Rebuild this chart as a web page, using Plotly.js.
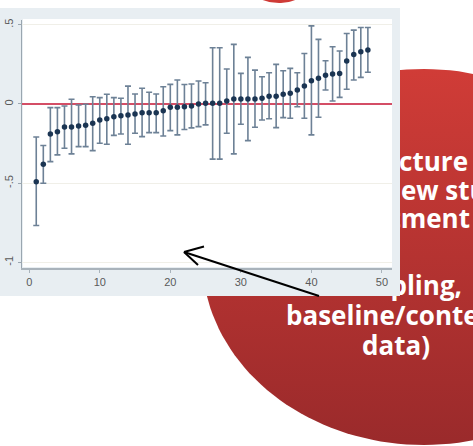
<!DOCTYPE html>
<html><head><meta charset="utf-8">
<script src="https://cdn.plot.ly/plotly-3.0.1.min.js"></script>
<style>html,body{margin:0;padding:0;background:#fff;}#chart{width:473px;height:446px;}</style>
</head><body><div id="chart"></div>
<script>
// ---- chart data ----
const study = [1,2,3,4,5,6,7,8,9,10,11,12,13,14,15,16,17,18,19,20,21,22,23,24,
               25,26,27,28,29,30,31,32,33,34,35,36,37,38,39,40,41,42,43,44,45,46,47,48];
const estimate = [-0.490,-0.380,-0.189,-0.175,-0.145,-0.145,-0.139,-0.134,-0.122,-0.101,-0.093,-0.080,
                  -0.074,-0.069,-0.063,-0.055,-0.055,-0.055,-0.042,-0.021,-0.021,-0.017,-0.013,0.000,
                  0.004,0.004,0.004,0.019,0.032,0.032,0.032,0.032,0.036,0.049,0.049,0.061,
                  0.067,0.088,0.113,0.147,0.162,0.181,0.189,0.193,0.271,0.313,0.330,0.340];
const lower = [-0.767,-0.500,-0.364,-0.321,-0.279,-0.315,-0.269,-0.269,-0.294,-0.248,-0.254,-0.198,
               -0.189,-0.254,-0.185,-0.206,-0.181,-0.181,-0.202,-0.168,-0.195,-0.161,-0.151,-0.143,
               -0.132,-0.348,-0.348,-0.185,-0.315,-0.128,-0.231,-0.147,-0.101,-0.093,-0.149,-0.086,
               -0.090,-0.017,-0.090,-0.195,-0.084,0.088,0.019,0.042,0.093,0.151,0.168,0.200];
const upper = [-0.208,-0.262,-0.023,-0.023,-0.013,0.030,-0.006,-0.002,0.046,0.040,0.061,0.040,
               0.036,0.113,0.063,0.099,0.074,0.063,0.109,0.124,0.151,0.123,0.126,0.145,
               0.134,0.355,0.355,0.221,0.376,0.193,0.294,0.214,0.172,0.197,0.250,0.210,
               0.225,0.197,0.319,0.493,0.408,0.273,0.361,0.334,0.445,0.466,0.483,0.483];
const xTickVals = [0,10,20,30,40,50];
const xTickText = ['0','10','20','30','40','50'];
const yTickVals = [0.5,0,-0.5,-1];
const yTickText = ['.5','0','-.5','-1'];
const slideLines = ['Infrastructure','(new study','treatment','sampling,','baseline/context','data)'];

// ---- page geometry helpers (decoration) ----
const W = 473, H = 446;
function fy(y){ return H - y; }
function ellipse(cx, cy, rx, ry){
  const xs = [], ys = [];
  for (let i = 0; i <= 160; i++){ const t = 2*Math.PI*i/160; xs.push(cx + rx*Math.cos(t)); ys.push(fy(cy + ry*Math.sin(t))); }
  return {xs, ys};
}
function rect(x0, y0, x1, y1){ return {xs:[x0,x1,x1,x0,x0], ys:[fy(y0),fy(y0),fy(y1),fy(y1),fy(y0)]}; }

const big = ellipse(424, 257, 222, 188);
const small = ellipse(279, -50, 50, 53);
const frame = rect(0, 8, 400, 296);
const plotBg = rect(23, 19, 392, 267);

const deco = (shape, color, extra) => Object.assign({
  type:'scatter', mode:'lines', x:shape.xs, y:shape.ys, xaxis:'x', yaxis:'y',
  line:{width:0, color:'rgba(0,0,0,0)'}, fill:'toself', fillcolor:color,
  hoverinfo:'skip', showlegend:false
}, extra || {});

const traces = [
  deco(big, '#b83232', {fillgradient:{type:'vertical', colorscale:[[0,'#9a2a2b'],[1,'#d03c37']]}}),
  deco(small, '#cf3b37'),
  {type:'scatter', mode:'text', xaxis:'x', yaxis:'y',
   x:[468, 375, 470, 462, 286, 396],
   y:[164, 193, 221, 288, 318, 348].map(fy),
   text: slideLines,
   textposition:['middle left','middle right','middle left','middle left','middle right','middle center'],
   textfont:{family:'"Open Sans", sans-serif', size:26, color:'#ffffff', weight:'bold'},
   hoverinfo:'skip', showlegend:false},
  deco(frame, '#e8eef2'),
  deco(plotBg, '#ffffff'),
  {type:'scatter', mode:'markers', x:study, y:estimate, xaxis:'x2', yaxis:'y2',
   marker:{color:'#1b3553', size:5.5},
   error_y:{type:'data', symmetric:false,
            array: upper.map((u,i)=>u-estimate[i]),
            arrayminus: estimate.map((e,i)=>e-lower[i]),
            color:'#6d8196', thickness:1.6, width:3},
   hoverinfo:'skip', showlegend:false}
];

const tickFont = {family:'"Liberation Sans", Arial, sans-serif', size:11, color:'#5a5a5a'};
const layout = {
  width:W, height:H, margin:{l:0,r:0,t:0,b:0},
  paper_bgcolor:'#ffffff', plot_bgcolor:'rgba(0,0,0,0)', showlegend:false,
  xaxis:{domain:[0,1], range:[0,W], visible:false, fixedrange:true},
  yaxis:{domain:[0,1], range:[0,H], visible:false, fixedrange:true},
  xaxis2:{domain:[22/W, 392/W], anchor:'y2', range:[-1.02, 51.42],
          tickmode:'array', tickvals:xTickVals, ticktext:xTickText,
          showgrid:false, zeroline:false, showline:true, linecolor:'#a9b3bb', linewidth:2,
          ticks:'outside', ticklen:3, tickcolor:'#a9b3bb', tickfont:tickFont, fixedrange:true},
  yaxis2:{domain:[1-268/H, 1-20/H], anchor:'x2', range:[-1.035, 0.53],
          tickmode:'array', tickvals:yTickVals, ticktext:yTickText, tickangle:-90,
          showgrid:true, gridcolor:'#f0efe8', gridwidth:1,
          zeroline:true, zerolinecolor:'#d44e66', zerolinewidth:1.5,
          showline:true, linecolor:'#9aa6b0', linewidth:1.5,
          ticks:'outside', ticklen:3, tickcolor:'#9aa6b0', tickfont:tickFont, fixedrange:true},
  shapes:[
    {type:'line', xref:'x', yref:'y', x0:319, y0:fy(296), x1:184, y1:fy(252), line:{color:'#000', width:2}, layer:'above'},
    {type:'line', xref:'x', yref:'y', x0:184, y0:fy(252), x1:204, y1:fy(246.5), line:{color:'#000', width:2}, layer:'above'},
    {type:'line', xref:'x', yref:'y', x0:184, y0:fy(252), x1:198, y1:fy(265), line:{color:'#000', width:2}, layer:'above'}
  ]
};
Plotly.newPlot('chart', traces, layout, {displayModeBar:false, staticPlot:true});
</script>
</body></html>
